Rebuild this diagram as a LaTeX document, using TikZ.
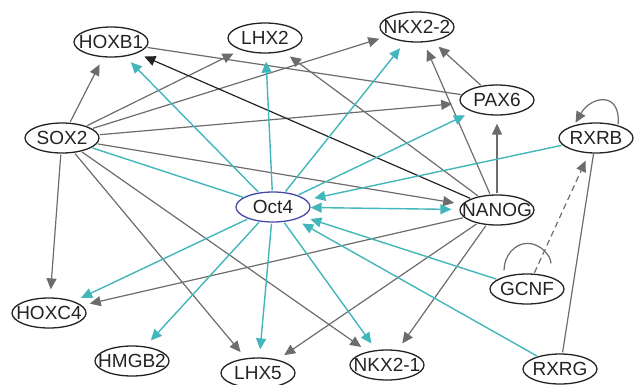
\documentclass[tikz,border=0pt]{standalone}
\usepackage{fontspec}
\setmainfont{Liberation Sans}
\usetikzlibrary{shapes.geometric,arrows.meta}
\definecolor{edgegray}{RGB}{108,108,108}
\definecolor{octcyan}{RGB}{66,182,186}
\definecolor{ringblue}{RGB}{72,72,165}
\definecolor{ink}{RGB}{35,35,35}
\newcommand{\gname}[1]{\makebox[0pt]{#1}}

\begin{document}
\begin{tikzpicture}[x=1pt,y=1pt,>={Triangle[length=11pt,width=10pt]}]
    \tikzstyle{gene}=[ellipse,draw=ink,line width=1.3pt,minimum width=74pt,minimum height=30pt,inner sep=0pt,text=ink,font=\fontsize{19}{19}\selectfont]
    \tikzstyle{hub}=[gene,draw=ringblue]
    \tikzstyle{link}=[edgegray,line width=1.2pt,->,shorten <=1pt,shorten >=8pt]
    \tikzstyle{octlink}=[link,octcyan,line width=1.4pt]
    \tikzstyle{dark}=[link,ink]
    \useasboundingbox (0,0) rectangle (634,-384);
    % genes
    \node[gene] (hoxb1) at (111,-42){\gname{HOXB1}};
    \node[gene] (lhx2) at (265,-38){\gname{LHX2}};
    \node[gene] (nkx22) at (417,-27){\gname{NKX2-2}};
    \node[gene] (pax6) at (497,-100){\gname{PAX6}};
    \node[gene] (rxrb) at (596,-138){\gname{RXRB}};
    \node[gene] (sox2) at (62,-138){\gname{SOX2}};
    \node[hub] (oct4) at (273,-207){\gname{Oct4}};
    \node[gene] (nanog) at (497,-210){\gname{NANOG}};
    \node[gene] (gcnf) at (527,-289){\gname{GCNF}};
    \node[gene] (hoxc4) at (49,-313){\gname{HOXC4}};
    \node[gene] (hmgb2) at (132,-361){\gname{HMGB2}};
    \node[gene] (lhx5) at (258,-373){\gname{LHX5}};
    \node[gene] (nkx21) at (387,-365){\gname{NKX2-1}};
    \node[gene] (rxrg) at (560,-369){\gname{RXRG}};
    % SOX2 targets
    \draw[link] (sox2) -- (hoxb1);
    \draw[link] (sox2) -- (lhx2);
    \draw[link] (sox2) -- (nkx22);
    \draw[link] (sox2) -- (pax6);
    \draw[link] (sox2) -- (nanog);
    \draw[link] (sox2) -- (hoxc4);
    \draw[link] (sox2) -- (lhx5);
    \draw[link] (sox2) -- (nkx21);
    % NANOG targets
    \draw[link] (nanog) -- (lhx2);
    \draw[link] (nanog) -- (nkx22);
    \draw[link] (nanog) -- (pax6);
    \draw[link] (nanog) -- (hoxc4);
    \draw[link] (nanog) -- (lhx5);
    \draw[link] (nanog) -- (nkx21);
    \draw[link] (pax6) -- (nkx22);
    \draw[link,-,shorten >=0pt] (hoxb1) -- (pax6);
    \draw[link,-,shorten >=0pt] (rxrg) -- (rxrb);
    \draw[link,dash pattern=on 6pt off 4pt] (gcnf) -- (rxrb);
    \draw[link,shorten >=3pt] (rxrb.30) to[out=85,in=60,looseness=2] (rxrb.150);
    \draw[link,-] ([xshift=-23pt,yshift=2pt]gcnf.north) arc[start angle=180,end angle=0,x radius=23.5pt,y radius=28pt];
    \draw[dark] (nanog) -- (hoxb1);
    % Oct4
    \draw[octlink,-,shorten >=0pt] (sox2) -- (oct4);
    \draw[octlink,<->,shorten <=0pt] (oct4) -- (nanog);
    \draw[octlink] (oct4) -- (hoxb1);
    \draw[octlink] (oct4) -- (lhx2);
    \draw[octlink] (oct4) -- (nkx22);
    \draw[octlink] (oct4) -- (pax6);
    \draw[octlink] (oct4) -- (hoxc4);
    \draw[octlink] (oct4) -- (hmgb2);
    \draw[octlink] (oct4) -- (lhx5);
    \draw[octlink] (oct4) -- (nkx21);
    \draw[octlink] (rxrb) -- (oct4);
    \draw[octlink] (gcnf) -- (oct4);
    \draw[octlink] (rxrg) -- (oct4);
\end{tikzpicture}
\end{document}
